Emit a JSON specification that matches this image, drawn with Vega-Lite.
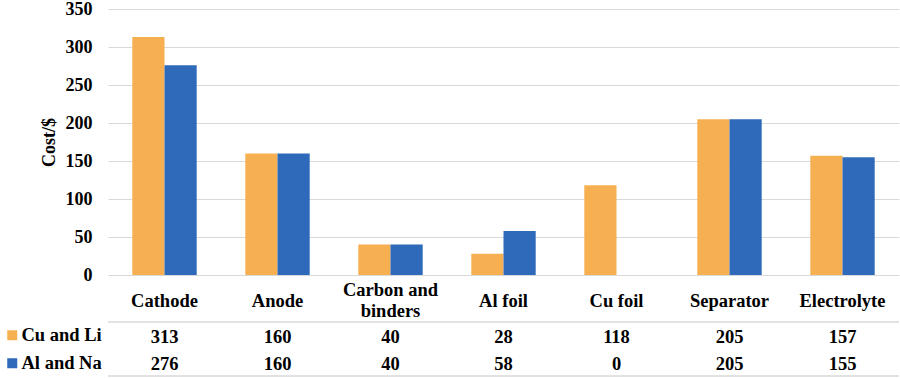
{
  "$schema": "https://vega.github.io/schema/vega-lite/v6.json",
  "padding": {"left": 2, "top": 0, "right": 0, "bottom": 0},
  "background": "white",
  "config": {
    "font": "Liberation Serif, Times New Roman, serif",
    "view": {"stroke": null},
    "concat": {"spacing": 1},
    "axis": {"labelFont": "Liberation Serif, Times New Roman, serif", "titleFont": "Liberation Serif, Times New Roman, serif"},
    "legend": {"labelFont": "Liberation Serif, Times New Roman, serif", "titleFont": "Liberation Serif, Times New Roman, serif"},
    "text": {"font": "Liberation Serif, Times New Roman, serif"}
  },
  "datasets": {
    "costs": [
      {"component": "Cathode", "series": "Cu and Li", "cost": 313},
      {"component": "Cathode", "series": "Al and Na", "cost": 276},
      {"component": "Anode", "series": "Cu and Li", "cost": 160},
      {"component": "Anode", "series": "Al and Na", "cost": 160},
      {"component": "Carbon and binders", "series": "Cu and Li", "cost": 40},
      {"component": "Carbon and binders", "series": "Al and Na", "cost": 40},
      {"component": "Al foil", "series": "Cu and Li", "cost": 28},
      {"component": "Al foil", "series": "Al and Na", "cost": 58},
      {"component": "Cu foil", "series": "Cu and Li", "cost": 118},
      {"component": "Cu foil", "series": "Al and Na", "cost": 0},
      {"component": "Separator", "series": "Cu and Li", "cost": 205},
      {"component": "Separator", "series": "Al and Na", "cost": 205},
      {"component": "Electrolyte", "series": "Cu and Li", "cost": 157},
      {"component": "Electrolyte", "series": "Al and Na", "cost": 155}
    ]
  },
  "resolve": {"legend": {"color": "independent"}},
  "vconcat": [
    {
      "width": 791,
      "height": 266,
      "data": {"name": "costs"},
      "mark": {"type": "bar"},
      "encoding": {
        "x": {
          "field": "component", "type": "nominal",
          "sort": ["Cathode", "Anode", "Carbon and binders", "Al foil", "Cu foil", "Separator", "Electrolyte"],
          "scale": {"paddingInner": 0.43, "paddingOuter": 0.215},
          "axis": {
            "title": null, "labelAngle": 0, "ticks": false, "domain": false,
            "labelFontSize": 18.5, "labelFontWeight": "bold", "labelColor": "black",
            "labelPadding": {"condition": {"test": "datum.value == 'Carbon and binders'", "value": 14}, "value": 25},
            "labelBaseline": "middle", "labelLineHeight": 21,
            "labelExpr": "datum.value == 'Carbon and binders' ? ['Carbon and', 'binders'] : datum.value"
          }
        },
        "xOffset": {"field": "series", "type": "nominal", "sort": ["Cu and Li", "Al and Na"]},
        "y": {
          "field": "cost", "type": "quantitative",
          "scale": {"domain": [0, 350]},
          "axis": {
            "title": "Cost/$", "values": [0, 50, 100, 150, 200, 250, 300, 350],
            "ticks": false, "domain": false, "gridColor": "#d9d9d9", "gridWidth": 1,
            "labelFontSize": 18, "labelFontWeight": "bold", "labelColor": "black", "labelPadding": 16,
            "titleFontSize": 18, "titleFontWeight": "bold", "titleColor": "black", "titlePadding": 7
          }
        },
        "color": {
          "field": "series", "type": "nominal",
          "scale": {"domain": ["Cu and Li", "Al and Na"], "range": ["#F7B051", "#2F69B9"]},
          "legend": null
        }
      }
    },
    {
      "width": 791,
      "height": 54,
      "view": {"stroke": "#d9d9d9", "strokeWidth": 1.5, "strokeDash": [791, 54, 791, 54]},
      "data": {"name": "costs"},
      "encoding": {
        "x": {
          "field": "component", "type": "nominal",
          "sort": ["Cathode", "Anode", "Carbon and binders", "Al foil", "Cu foil", "Separator", "Electrolyte"],
          "scale": {"paddingInner": 0.43, "paddingOuter": 0.215},
          "axis": null
        },
        "y": {"field": "series", "type": "nominal", "sort": ["Cu and Li", "Al and Na"], "axis": null}
      },
      "layer": [
        {
          "mark": {"type": "text", "fontSize": 18.5, "fontWeight": "bold", "color": "black", "dy": 1},
          "encoding": {"text": {"field": "cost", "type": "quantitative"}}
        },
        {
          "mark": {"type": "square", "opacity": 0},
          "encoding": {
            "color": {
              "field": "series", "type": "nominal",
              "scale": {"domain": ["Cu and Li", "Al and Na"], "range": ["#F7B051", "#2F69B9"]},
              "legend": {
                "orient": "none", "legendX": -105, "legendY": 4, "title": null, "padding": 0,
                "symbolType": "square", "symbolSize": 100, "symbolOpacity": 1, "symbolStrokeWidth": 0,
                "labelFontSize": 18.5, "labelFontWeight": "bold", "labelColor": "black", "labelOffset": 0,
                "rowPadding": 9
              }
            }
          }
        }
      ]
    }
  ]
}
